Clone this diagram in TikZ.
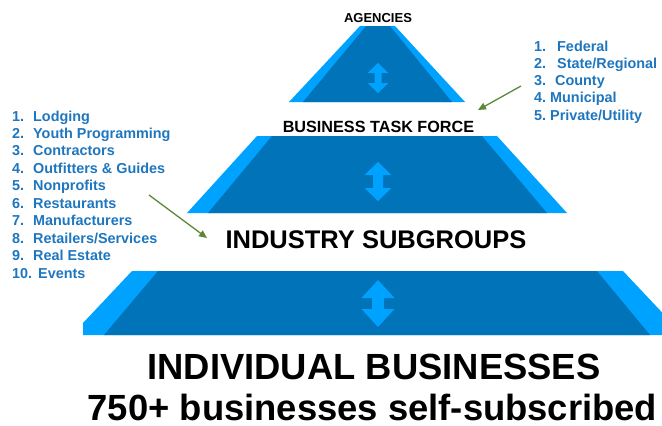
\documentclass[tikz,border=0pt]{standalone}
\usepackage{fontspec}
\setmainfont{Liberation Sans}
\usetikzlibrary{arrows.meta}

\definecolor{tierlight}{RGB}{0,162,255}
\definecolor{tierdark}{RGB}{0,115,185}
\definecolor{listblue}{RGB}{30,118,190}
\definecolor{pointergreen}{RGB}{92,136,56}

\tikzset{
  listtext/.style={anchor=base west,inner sep=0pt,text=listblue,
    font=\fontsize{14.4}{17}\selectfont\bfseries},
  tierlabel/.style={anchor=base,inner sep=0pt},
  pointer/.style={draw=pointergreen,line width=1.3pt,-{Triangle[length=8pt,width=7pt]}},
}

\begin{document}
\begin{tikzpicture}[x=1pt,y=-1pt]
  \useasboundingbox (0,0) rectangle (662,426);
  \clip (0,0) rectangle (662,426);

  % pyramid tiers, light rim first then the dark face
  \fill[tierlight] (360,26) -- (395,26) -- (465,102) -- (289,102) -- cycle;
  \fill[tierdark] (366,26) -- (390,26) -- (452,102) -- (303,102) -- cycle;
  \fill[tierlight] (257,136) -- (497,136) -- (567,213) -- (187,213) -- cycle;
  \fill[tierdark] (272,136) -- (482,136) -- (547,213) -- (208,213) -- cycle;
  \fill[tierlight] (132,271) -- (623,271) -- (672,323) -- (672,335)
    -- (83,335) -- (83,323) -- cycle;
  \fill[tierdark] (158,271) -- (597,271) -- (650,335) -- (104,335) -- cycle;

  % up/down arrows in each tier: top/bottom/head width/shaft width/head length
  \foreach \ya/\yb/\w/\s/\h in {63/93/21/7/10, 162/201/27/10/13, 280/327/33/12/18} {
    \fill[tierlight] (378,\ya) -- (378+\w/2,\ya+\h) -- (378+\s/2,\ya+\h)
      -- (378+\s/2,\yb-\h) -- (378+\w/2,\yb-\h) -- (378,\yb)
      -- (378-\w/2,\yb-\h) -- (378-\s/2,\yb-\h) -- (378-\s/2,\ya+\h)
      -- (378-\w/2,\ya+\h) -- cycle;
  }

  % tier labels
  \node[tierlabel,font=\fontsize{13}{15}\selectfont\bfseries] (agencies) at (378,22.7) {AGENCIES};
  \node[tierlabel,font=\fontsize{16.2}{19}\selectfont\bfseries] (taskforce) at (378.5,132) {BUSINESS TASK FORCE};
  \node[tierlabel,font=\fontsize{25.5}{30}\selectfont\bfseries] (subgroups) at (376,248) {INDUSTRY SUBGROUPS};
  \node[tierlabel,font=\fontsize{36.4}{43}\selectfont\bfseries] (individual) at (374,379) {INDIVIDUAL BUSINESSES};
  \node[tierlabel,font=\fontsize{36.4}{43}\selectfont\bfseries] (subscribed) at (372.5,420.5) {750+ businesses self-subscribed};

  % industry list on the left
  \foreach \gap/\name [count=\i] in {21/Lodging, 21/Youth Programming, 21/Contractors,
      21/Outfitters \& Guides, 21/Nonprofits, 21/Restaurants, 21/Manufacturers,
      21/{Retailers/Services}, 21/Real Estate, 26/Events} {
    \node[listtext] (sector\i) at (12,121+17.45*\i-17.45) {\makebox[\gap pt][l]{\i.}\name};
  }

  % agency list on the right
  \foreach \gap/\name [count=\i] in {23/Federal, 23/{State/Regional}, 21/County,
      16/Municipal, 16/{Private/Utility}} {
    \node[listtext] (agency\i) at (534,51+17.3*\i-17.3) {\makebox[\gap pt][l]{\i.}\name};
  }

  % pointers from the lists to their tiers
  \coordinate (agencytail) at (521,86);
  \coordinate (agencytip) at (478,110);
  \coordinate (sectortail) at (149,195);
  \coordinate (sectortip) at (207,238);
  \draw[pointer] (agencytail) -- (agencytip);
  \draw[pointer] (sectortail) -- (sectortip);
\end{tikzpicture}
\end{document}
